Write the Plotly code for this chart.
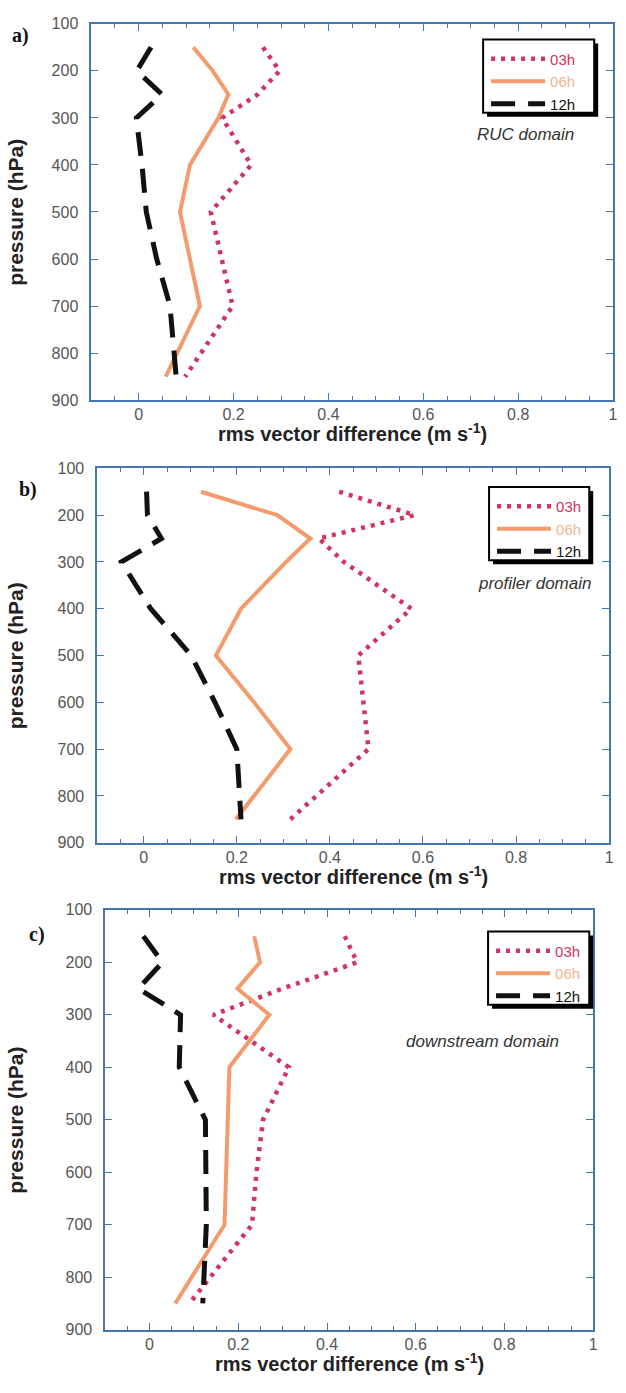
import plotly.graph_objects as go

# ---------------- data ----------------
levels = [150, 200, 250, 300, 400, 500, 600, 700, 850]  # pressure (hPa)

a_03h = [0.262, 0.297, 0.251, 0.176, 0.237, 0.152, 0.175, 0.198, 0.098]
a_06h = [0.115, 0.156, 0.189, 0.168, 0.108, 0.087, 0.108, 0.129, 0.057]
a_12h = [0.026, -0.004, 0.049, -0.005, 0.007, 0.016, 0.038, 0.066, 0.079]

b_03h = [0.420, 0.582, 0.376, 0.430, 0.575, 0.461, 0.472, 0.483, 0.315]
b_06h = [0.123, 0.287, 0.358, 0.306, 0.209, 0.155, 0.237, 0.315, 0.198]
b_12h = [0.006, 0.008, 0.038, -0.048, 0.015, 0.102, 0.153, 0.200, 0.209]

c_03h = [0.440, 0.468, 0.300, 0.144, 0.314, 0.256, 0.241, 0.231, 0.090]
c_06h = [0.236, 0.249, 0.198, 0.270, 0.180, 0.177, 0.173, 0.169, 0.058]
c_12h = [-0.014, 0.029, -0.025, 0.070, 0.067, 0.126, 0.127, 0.128, 0.120]

series_names = ["03h", "06h", "12h"]
panel_labels = ["a)", "b)", "c)"]
domain_labels = ["RUC domain", "profiler domain", "downstream domain"]
x_ticks = [0, 0.2, 0.4, 0.6, 0.8, 1]
x_ticklabels = ["0", "0.2", "0.4", "0.6", "0.8", "1"]
y_ticks = [100, 200, 300, 400, 500, 600, 700, 800, 900]

# ---------------- style ----------------
W, H = 626, 1393
FRAME = "#4677b3"
TICKC = "#555555"
FONT = "Liberation Sans, Arial, sans-serif"
C03, C06, C12 = "#d2335f", "#f39b6c", "#111111"
LEG_TXT = {"03h": "#d2335f", "06h": "#f5b38f", "12h": "#111111"}

# panel frames in pixels: (left, right, top, bottom)
frames = [(92, 618, 16, 397), (98, 614, 466, 845), (106, 598, 913, 1338)]
# legend boxes in pixels: (left, top, right, bottom)
legend_boxes = [(487, 32, 599, 106), (493, 485, 594, 559), (492, 935, 594, 1009)]
domain_pos = [(0.815, 335), (0.84, 347), (0.75, 350)]

def px_x(p):
    return p / W

def px_y(p):
    return 1 - p / H

fig = go.Figure()
panel_data = [(a_03h, a_06h, a_12h), (b_03h, b_06h, b_12h), (c_03h, c_06h, c_12h)]
styles = [
    dict(color=C03, width=4.5, dash="4px,6px"),
    dict(color=C06, width=4),
    dict(color=C12, width=5, dash="24px,13px"),
]

layout_axes = {}
for i, (vals, fr) in enumerate(zip(panel_data, frames)):
    sfx = "" if i == 0 else str(i + 1)
    legname = "legend" if i == 0 else f"legend{i + 1}"
    for name, v, st in zip(series_names, vals, styles):
        fig.add_trace(go.Scatter(
            x=v, y=levels, mode="lines", line=st,
            name=f'<span style="color:{LEG_TXT[name]}">{name}</span>',
            xaxis="x" + sfx, yaxis="y" + sfx, legend=legname,
        ))
    l, r, t, b = fr
    layout_axes["xaxis" + sfx] = dict(
        domain=[px_x(l), px_x(r)], anchor="y" + sfx, range=[-0.1, 1.0],
        showline=True, linecolor=FRAME, linewidth=1.5, mirror="ticks",
        ticks="inside", ticklen=7, tickwidth=1.2, tickcolor=FRAME,
        tickvals=x_ticks, ticktext=x_ticklabels,
        minor=dict(dtick=0.05, tick0=0, ticks="inside", ticklen=4,
                   tickwidth=1.2, tickcolor=FRAME, showgrid=False),
        showgrid=False, zeroline=False,
        tickfont=dict(family=FONT, size=16, color=TICKC),
        ticklabelstandoff=-1,
    )
    layout_axes["yaxis" + sfx] = dict(
        domain=[px_y(b), px_y(t)], anchor="x" + sfx, range=[900, 100],
        showline=True, linecolor=FRAME, linewidth=1.5, mirror="ticks",
        ticks="inside", ticklen=7, tickwidth=1.2, tickcolor=FRAME,
        tickvals=y_ticks, showgrid=False, zeroline=False,
        tickfont=dict(family=FONT, size=16, color=TICKC),
        ticklabelstandoff=8,
    )

fig.update_layout(**layout_axes)

annotations = []
shapes = []
for i, fr in enumerate(frames):
    l, r, t, b = fr
    sfx = "" if i == 0 else str(i + 1)
    # x title
    annotations.append(dict(
        x=px_x((l + r) / 2), y=px_y(b + 33), xref="paper", yref="paper",
        text="<b>rms vector difference (m s<sup>-1</sup>)</b>", showarrow=False,
        font=dict(family=FONT, size=20, color="#222222"),
        xanchor="center", yanchor="middle"))
    # y title
    annotations.append(dict(
        x=px_x(16), y=px_y((t + b) / 2), xref="paper", yref="paper",
        text="<b>pressure (hPa)</b>", textangle=-90, showarrow=False,
        font=dict(family=FONT, size=21, color="#222222"),
        xanchor="center", yanchor="middle"))
    # domain label
    dx, dy = domain_pos[i]
    annotations.append(dict(
        x=dx, y=dy, xref="x" + sfx, yref="y" + sfx,
        text=f"<i>{domain_labels[i]}</i>", showarrow=False,
        font=dict(family=FONT, size=17, color="#333333"),
        xanchor="center", yanchor="middle"))

# panel labels
panel_label_pos = [(21, 28), (28, 487), (37, 938)]
for lab, (px, py) in zip(panel_labels, panel_label_pos):
    annotations.append(dict(
        x=px_x(px), y=px_y(py), xref="paper", yref="paper", text=f"<b>{lab}</b>",
        showarrow=False,
        font=dict(family="Liberation Serif, Times New Roman, serif", size=20, color="#111111"),
        xanchor="center", yanchor="middle"))

legends = {}
for i, (bl, bt, br, bb) in enumerate(legend_boxes):
    key = "legend" if i == 0 else f"legend{i + 1}"
    # drop shadow, then white framed box
    shapes.append(dict(
        type="rect", xref="paper", yref="paper",
        x0=px_x(bl + 4), x1=px_x(br + 4), y0=px_y(bb + 4), y1=px_y(bt + 4),
        fillcolor="black", line=dict(width=0), layer="above"))
    shapes.append(dict(
        type="rect", xref="paper", yref="paper",
        x0=px_x(bl), x1=px_x(br), y0=px_y(bb), y1=px_y(bt),
        fillcolor="white", line=dict(color="black", width=2), layer="above"))
    legends[key] = dict(
        x=px_x(bl + 3), y=px_y(bt + 3), xanchor="left", yanchor="top",
        xref="paper", yref="paper",
        bgcolor="rgba(0,0,0,0)", borderwidth=0,
        font=dict(family=FONT, size=15, color="#111111"),
        itemwidth=54, tracegroupgap=0,
    )

fig.update_layout(
    width=W, height=H, margin=dict(l=0, r=0, t=0, b=0),
    paper_bgcolor="white", plot_bgcolor="white",
    showlegend=True, annotations=annotations, shapes=shapes,
    **legends,
)

fig.write_html("out.html")
